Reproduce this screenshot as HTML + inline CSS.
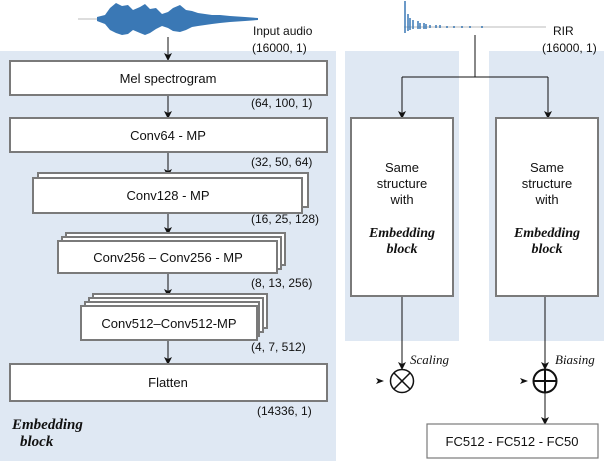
<!DOCTYPE html>
<html><head><meta charset="utf-8"><style>
body{margin:0;width:604px;height:464px;background:#fff;overflow:hidden}
svg{display:block}
text{font-family:"Liberation Sans",sans-serif;font-size:12px;fill:#111}
.l{font-size:13px}
.s{font-family:"Liberation Serif",serif;font-style:italic;font-weight:bold;font-size:14px}
.i{font-family:"Liberation Serif",serif;font-style:italic;font-size:13px}
.b{fill:#fff;stroke:#7a7a7a;stroke-width:2}
</style></head><body>
<svg width="604" height="464" viewBox="0 0 604 464">
<defs><marker id="a" markerWidth="8" markerHeight="8" refX="7" refY="4" orient="auto" markerUnits="userSpaceOnUse"><path d="M0,0 L8,4 L0,8 L2,4z" fill="#111"/></marker></defs>
<rect x="0" y="51" width="336" height="410" fill="#dfe8f3"/>
<rect x="345" y="51" width="114" height="290" fill="#dfe8f3"/>
<rect x="489" y="51" width="115" height="290" fill="#dfe8f3"/>
<line x1="78" y1="19" x2="100" y2="19" stroke="#bbb"/>
<polygon fill="#3a78b5" points="97,17 105,15 110,8 116,3 122,6 128,5 133,10 140,7 145,4 150,9 156,8 162,14 168,12 173,8 180,5 186,10 192,11 198,13 205,14 212,15 220,15 230,16 245,17 258,18 258,20 245,21 230,22 220,23 212,24 205,25 198,26 192,27 186,30 180,32 173,31 168,28 162,26 156,29 150,33 145,35 140,33 133,30 128,34 122,35 116,33 110,30 105,24 97,21"/>
<line x1="404" y1="27" x2="546" y2="27" stroke="#bbb"/>
<g stroke="#3a78b5" stroke-width="1.5">
<line x1="405" y1="1" x2="405" y2="33"/><line x1="408" y1="14" x2="408" y2="31"/><line x1="410" y1="18" x2="410" y2="30"/><line x1="413" y1="20" x2="413" y2="29"/><line x1="418" y1="21" x2="418" y2="29"/><line x1="420" y1="23" x2="420" y2="29"/><line x1="424" y1="23" x2="424" y2="29"/><line x1="426" y1="24" x2="426" y2="29"/><line x1="430" y1="25" x2="430" y2="28"/><line x1="436" y1="25" x2="436" y2="28"/><line x1="440" y1="25" x2="440" y2="28"/><line x1="447" y1="26" x2="447" y2="28"/><line x1="454" y1="26" x2="454" y2="28"/><line x1="462" y1="26" x2="462" y2="28"/><line x1="470" y1="26" x2="470" y2="28"/><line x1="482" y1="26" x2="482" y2="28"/>
</g>
<text x="253" y="35">Input audio</text>
<text x="252" y="52">(16000, 1)</text>
<text x="553" y="35">RIR</text>
<text x="542" y="52">(16000, 1)</text>
<g stroke="#111" stroke-width="1" fill="none">
<line x1="168" y1="37" x2="168" y2="60" marker-end="url(#a)"/>
<line x1="168" y1="95" x2="168" y2="118" marker-end="url(#a)"/>
<line x1="168" y1="152" x2="168" y2="176" marker-end="url(#a)"/>
<line x1="168" y1="213" x2="168" y2="234" marker-end="url(#a)"/>
<line x1="168" y1="273" x2="168" y2="296" marker-end="url(#a)"/>
<line x1="168" y1="340" x2="168" y2="364" marker-end="url(#a)"/>
<polyline points="475,35 475,77"/>
<polyline points="402,77 548,77"/>
<line x1="402" y1="77" x2="402" y2="118" marker-end="url(#a)"/>
<line x1="548" y1="77" x2="548" y2="118" marker-end="url(#a)"/>
<line x1="402" y1="296" x2="402" y2="369" marker-end="url(#a)"/>
<line x1="545" y1="296" x2="545" y2="369" marker-end="url(#a)"/>
<line x1="545" y1="393" x2="545" y2="424" marker-end="url(#a)"/>
</g>
<path d="M376,378 L384,381 L376,384 L378,381z" fill="#111"/>
<path d="M520,378 L528,381 L520,384 L522,381z" fill="#111"/>
<rect class="b" x="10" y="61" width="317" height="34"/>
<text class="l" x="168" y="83" text-anchor="middle">Mel spectrogram</text>
<text x="251" y="107">(64, 100, 1)</text>
<rect class="b" x="10" y="118" width="317" height="34"/>
<text class="l" x="168" y="140" text-anchor="middle">Conv64 - MP</text>
<text x="251" y="166">(32, 50, 64)</text>
<rect class="b" x="38" y="173" width="270" height="34"/>
<rect class="b" x="33" y="178" width="269" height="35"/>
<text class="l" x="168" y="200" text-anchor="middle">Conv128 - MP</text>
<text x="251" y="223">(16, 25, 128)</text>
<rect class="b" x="66" y="233" width="219" height="32"/>
<rect class="b" x="62" y="237" width="219" height="32"/>
<rect class="b" x="58" y="241" width="219" height="32"/>
<text class="l" x="168" y="262" text-anchor="middle">Conv256 – Conv256 - MP</text>
<text x="251" y="287">(8, 13, 256)</text>
<rect class="b" x="93" y="294" width="174" height="34"/>
<rect class="b" x="89" y="298" width="174" height="34"/>
<rect class="b" x="85" y="302" width="174" height="34"/>
<rect class="b" x="81" y="306" width="176" height="34"/>
<text class="l" x="169" y="328" text-anchor="middle">Conv512–Conv512-MP</text>
<text x="251" y="351">(4, 7, 512)</text>
<rect class="b" x="10" y="364" width="317" height="37"/>
<text class="l" x="168" y="387" text-anchor="middle">Flatten</text>
<text x="257" y="415">(14336, 1)</text>
<text class="s" x="12" y="429" style="font-size:15px">Embedding</text>
<text class="s" x="20" y="446" style="font-size:15px">block</text>
<rect class="b" x="351" y="118" width="102" height="178"/>
<rect class="b" x="496" y="118" width="102" height="178"/>
<g text-anchor="middle">
<text class="l" x="402" y="172">Same</text><text class="l" x="402" y="188">structure</text><text class="l" x="402" y="204">with</text>
<text class="s" x="402" y="237">Embedding</text><text class="s" x="402" y="253">block</text>
<text class="l" x="547" y="172">Same</text><text class="l" x="547" y="188">structure</text><text class="l" x="547" y="204">with</text>
<text class="s" x="547" y="237">Embedding</text><text class="s" x="547" y="253">block</text>
</g>
<text class="i" x="410" y="364">Scaling</text>
<text class="i" x="555" y="364">Biasing</text>
<circle cx="402" cy="381" r="11.5" fill="none" stroke="#111" stroke-width="1.5"/>
<line x1="394" y1="373" x2="410" y2="389" stroke="#111" stroke-width="1.5"/>
<line x1="410" y1="373" x2="394" y2="389" stroke="#111" stroke-width="1.5"/>
<circle cx="545" cy="381" r="11.5" fill="none" stroke="#111" stroke-width="2"/>
<line x1="533" y1="381" x2="557" y2="381" stroke="#111" stroke-width="2"/>
<line x1="545" y1="369" x2="545" y2="393" stroke="#111" stroke-width="2"/>
<rect x="427" y="424" width="171" height="34" fill="#fff" stroke="#7a7a7a" stroke-width="1.2"/>
<text class="l" x="512" y="446" text-anchor="middle">FC512 - FC512 - FC50</text>
</svg>
</body></html>
